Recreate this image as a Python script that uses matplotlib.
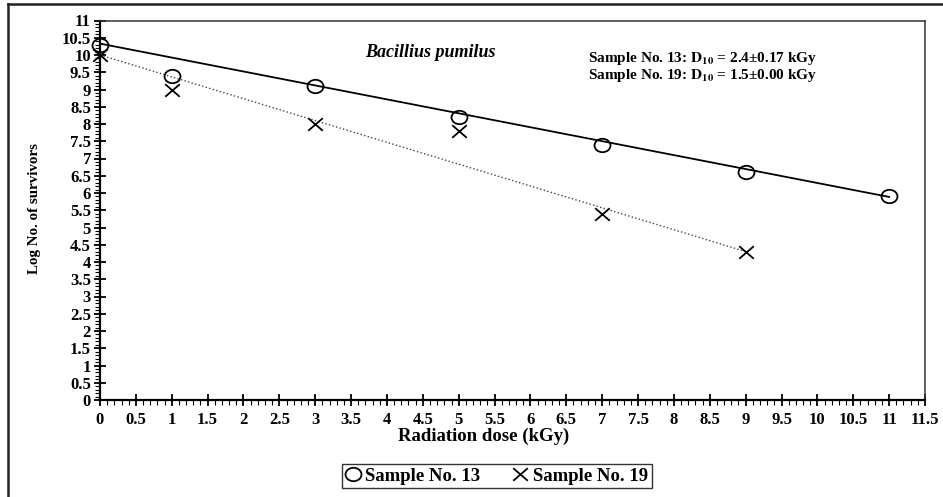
import matplotlib.pyplot as plt
import matplotlib
from matplotlib.ticker import MultipleLocator, FormatStrFormatter
from matplotlib.lines import Line2D
from matplotlib.path import Path
import numpy as np

matplotlib.rcParams['font.family'] = ['Liberation Serif', 'DejaVu Serif']
matplotlib.rcParams['font.weight'] = 'bold'
matplotlib.rcParams['mathtext.fontset'] = 'stix'

# data
dose_13 = [0, 1, 3, 5, 7, 9, 11]
log_13 = [10.3, 9.4, 9.1, 8.2, 7.4, 6.6, 5.9]
dose_19 = [0, 1, 3, 5, 7, 9]
log_19 = [10.0, 9.0, 8.0, 7.8, 5.4, 4.3]

# regression lines as drawn (intercept, slope, last dose)
fit_13 = (10.33, -0.404, 11)
fit_19 = (10.0, -0.633, 9)

# the original picture is a bit wider than tall -> slightly flattened markers
circ = Path.unit_circle()
oval = Path(circ.vertices * [1.0, 0.84], circ.codes)
cross = Path([(-0.5, -0.43), (0.5, 0.43), (-0.5, 0.43), (0.5, -0.43)],
             [Path.MOVETO, Path.LINETO, Path.MOVETO, Path.LINETO])

fig = plt.figure(figsize=(9.43, 4.97), dpi=100)
L, R, T, B = 100, 925, 20.5, 400
ax = fig.add_axes([L/943, 1 - B/497, (R - L)/943, (B - T)/497])

# outer frame (only top and left visible)
fig.add_artist(Line2D([8/943, 1.0], [1 - 4/497, 1 - 4/497], color='#222222', lw=1.8))
fig.add_artist(Line2D([8/943, 8/943], [0.0, 1 - 4/497], color='#222222', lw=1.8))

xf = np.array([0, fit_13[2]])
ax.plot(xf, fit_13[0] + fit_13[1] * xf, '-', color='black', lw=1.3, zorder=2)
xf = np.array([0, fit_19[2]])
ax.plot(xf, fit_19[0] + fit_19[1] * xf, ':', color='#444444', lw=1.0, zorder=2)

ax.plot(dose_13, log_13, linestyle='none', marker=oval, ms=11.5, mfc='none',
        mec='black', mew=1.3, label='Sample No. 13', zorder=3, clip_on=False)
ax.plot(dose_19, log_19, linestyle='none', marker=cross, ms=10.5, mfc='none',
        mec='black', mew=1.3, label='Sample No. 19', zorder=3, clip_on=False)

ax.set_xlim(0, 11.5)
ax.set_ylim(0, 11)
ax.xaxis.set_major_locator(MultipleLocator(0.5))
ax.xaxis.set_minor_locator(MultipleLocator(0.1))
ax.yaxis.set_major_locator(MultipleLocator(0.5))
ax.yaxis.set_minor_locator(MultipleLocator(0.1))
ax.xaxis.set_major_formatter(FormatStrFormatter('%g'))
ax.yaxis.set_major_formatter(FormatStrFormatter('%g'))
ax.tick_params(which='major', direction='inout', length=9, width=1.3, labelsize=12)
ax.tick_params(which='minor', direction='out', length=3.5, width=0.8)
ax.tick_params(axis='x', which='major', pad=4)
ax.tick_params(axis='y', which='major', pad=2)
for lab in ax.get_xticklabels() + ax.get_yticklabels():
    lab.set_fontweight('bold')

for s in ['left', 'bottom']:
    ax.spines[s].set_linewidth(1.6)
for s in ['top', 'right']:
    ax.spines[s].set_linewidth(1.1)
    ax.spines[s].set_color('#333333')

ax.set_xlabel('Radiation dose (kGy)', fontsize=13.5, fontweight='bold', va='center')
ax.xaxis.set_label_coords((484 - L)/(R - L), -(436 - B)/(B - T))
ax.set_ylabel('Log No. of survivors', fontsize=10.8, fontweight='bold',
              va='center', ha='center')
ax.yaxis.set_label_coords((35 - L)/(R - L), (B - 208)/(B - T))

ax.text(4.6, 10.08, 'Bacillius pumilus', fontsize=13, fontweight='bold',
        fontstyle='italic', ha='center', va='center')
ax.text(6.8, 9.9, r'Sample No. 13: $\mathbf{D_{10}}$ = 2.4±0.17 kGy',
        fontsize=11, fontweight='bold', ha='left', va='center')
ax.text(6.8, 9.42, r'Sample No. 19: $\mathbf{D_{10}}$ = 1.5±0.00 kGy',
        fontsize=11, fontweight='bold', ha='left', va='center')

leg = fig.legend(loc='center', bbox_to_anchor=(497/943, 1 - 476/497), ncol=2,
                 frameon=True, fancybox=False, edgecolor='black',
                 prop={'weight': 'bold', 'size': 13.5}, handlelength=0.7,
                 handletextpad=0.3, columnspacing=1.8, borderpad=0.2,
                 markerscale=1.0)
leg.get_frame().set_linewidth(1.0)

fig.savefig('out.png', dpi=100)
